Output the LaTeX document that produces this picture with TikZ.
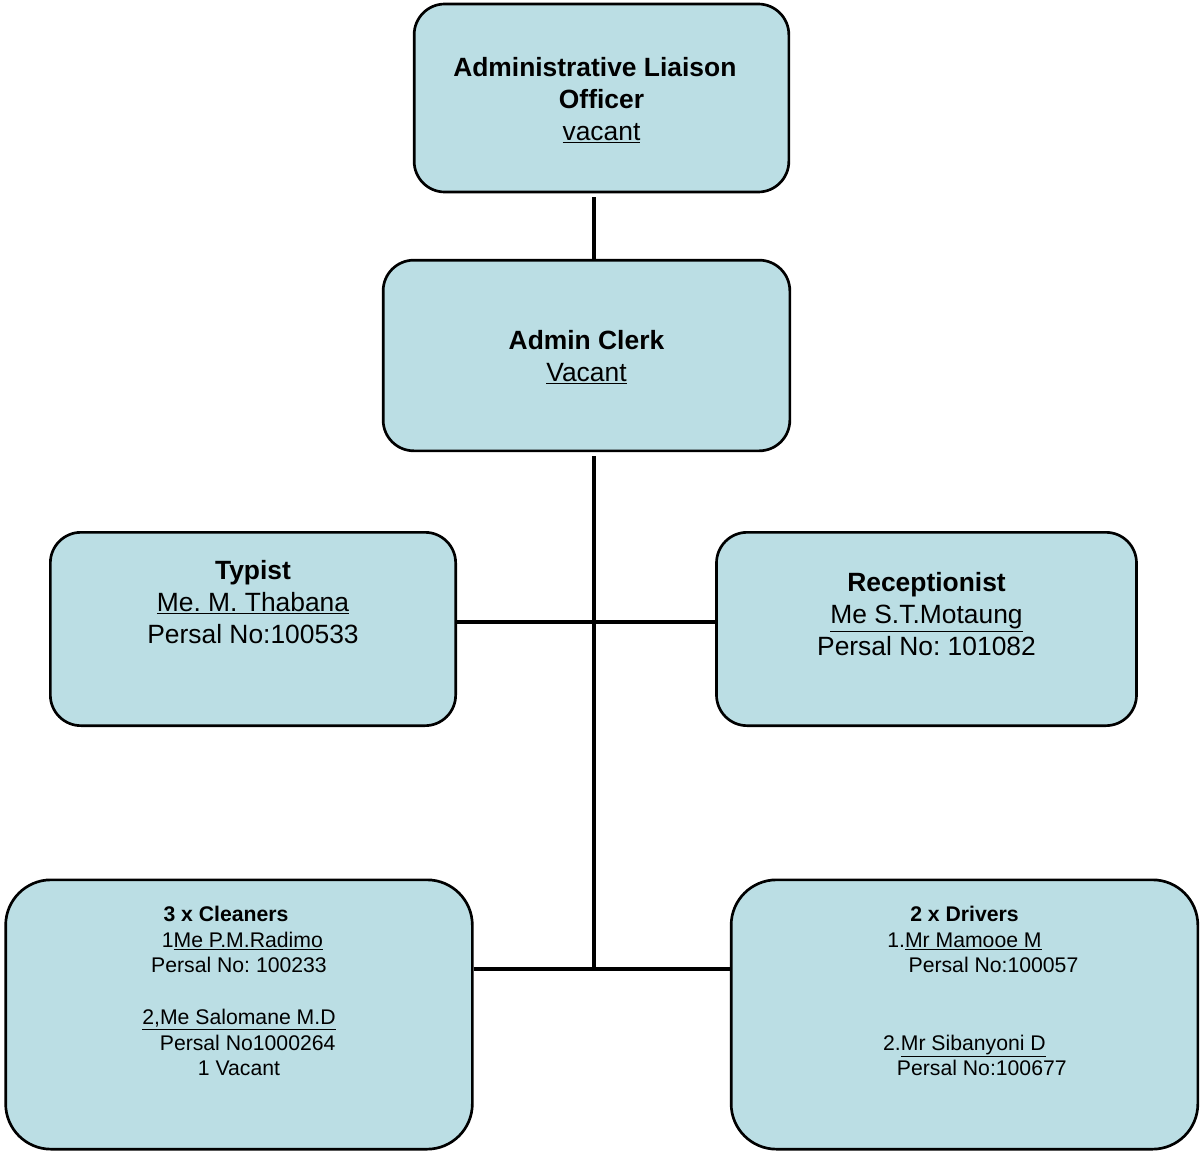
\documentclass[tikz,border=0pt]{standalone}
\usepackage{fontspec}
\setmainfont{Liberation Sans}
\definecolor{postblue}{RGB}{187,222,228}
\frenchspacing

\begin{document}
\begin{tikzpicture}[x=0.75pt,y=-0.75pt,
        post/.style={draw,fill=postblue,line width=2pt,rounded corners=23pt,inner sep=0pt},
        bigpost/.style={post,rounded corners=34pt,minimum width=350pt,minimum height=202pt},
        bigtxt/.style={align=center,inner sep=0pt,font=\fontsize{19.8}{24}\selectfont},
        smalltxt/.style={align=center,inner sep=0pt,font=\fontsize{15.9}{19.3}\selectfont},
        link/.style={line width=2.5pt}]
        \useasboundingbox (0,0) rectangle (1200,1153);

        \node[post,minimum width=281pt,minimum height=141pt] (officer) at (601.5,98) {};
        \node[bigtxt] (officertxt) at (601.5,100.5) {\textbf{Administrative Liaison}\hspace*{10pt}\\\textbf{Officer}\\\underline{vacant}};

        \node[post,minimum width=305pt,minimum height=143pt] (clerk) at (586.5,355.5) {};
        \node[bigtxt] (clerktxt) at (586.5,357.5) {\textbf{Admin Clerk}\\\underline{Vacant}};

        \node[post,minimum width=304pt,minimum height=145pt] (typist) at (253,629) {};
        \node[bigtxt] (typisttxt) at (253,602) {\textbf{Typist}\\\underline{Me. M. Thabana}\\Persal No:100533};

        \node[post,minimum width=315pt,minimum height=145pt] (recept) at (926.5,629) {};
        \node[bigtxt] (recepttxt) at (926.5,614) {\textbf{Receptionist}\\\underline{Me S.T.Motaung}\\Persal No: 101082};

        \node[bigpost] (cleaners) at (239,1014.5) {};
        \node[smalltxt] (cleanerstxt) at (239,991) {\textbf{3 x Cleaners}\hspace*{19.5pt}\\\hspace*{5pt}1\underline{Me P.M.Radimo}\\Persal No: 100233\\\mbox{}\\\underline{2,Me Salomane M.D}\\\hspace*{13pt}Persal No1000264\\1 Vacant};

        \node[bigpost] (drivers) at (964.5,1014.5) {};
        \node[smalltxt] (driverstxt) at (964.5,991) {\textbf{2 x Drivers}\\1.\underline{Mr Mamooe M}\\\hspace*{43.5pt}Persal No:100057\\\mbox{}\\\mbox{}\\2.\underline{Mr Sibanyoni D}\\\hspace*{26pt}Persal No:100677};

        \coordinate (midrow) at (594,622);
        \coordinate (spine) at (594,969);

        \draw[link,shorten <=3pt] (officer.south -| spine) -- (clerk.north -| spine);
        \draw[link,shorten <=3pt] (clerk.south -| spine) -- (spine);
        \draw[link] (typist.east |- midrow) -- (recept.west |- midrow);
        \draw[link] (cleaners.east |- spine) -- (drivers.west |- spine);
      \end{tikzpicture}
\end{document}
